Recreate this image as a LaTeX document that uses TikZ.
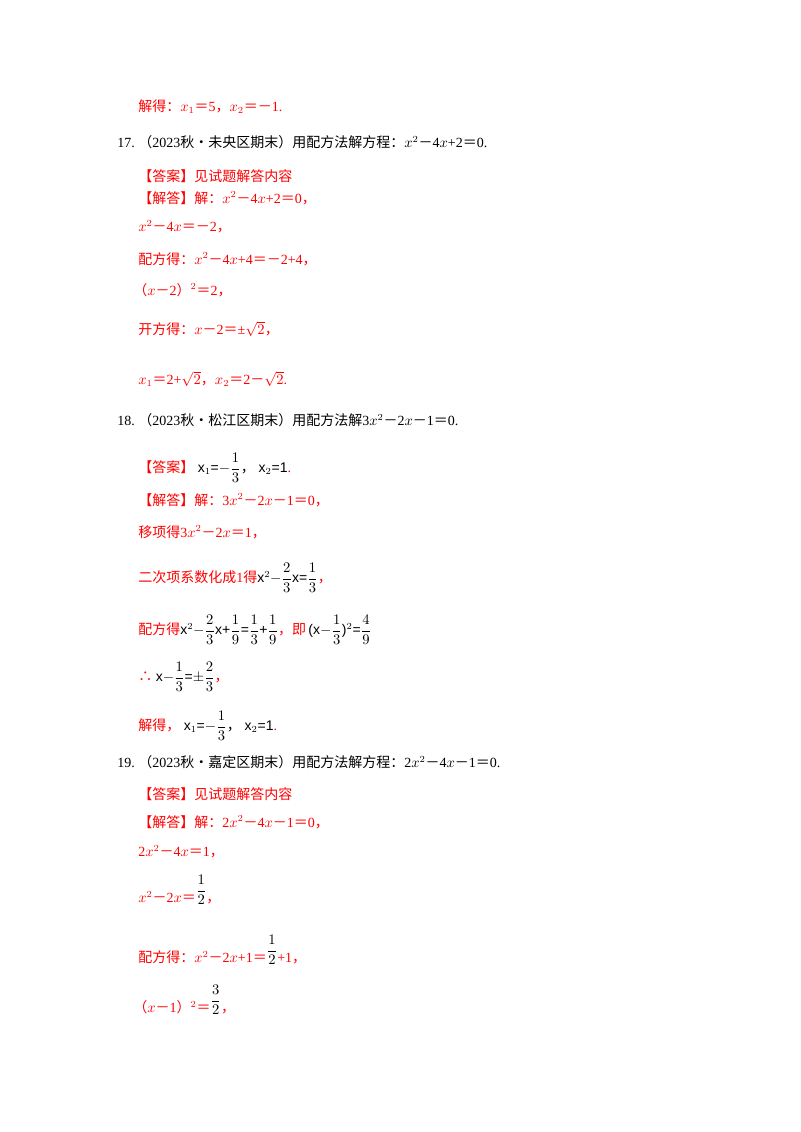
\documentclass[tikz,border=0pt]{standalone}
\usepackage{amsmath}
\usepackage{fontspec}
\setmainfont{Liberation Serif}
\newfontfamily\cjk{Noto Sans CJK SC}
\newfontfamily\arialf{Liberation Sans}
\begin{document}
\begin{tikzpicture}[x=0.75pt,y=-0.75pt,
  t/.style={anchor=west,inner sep=0pt,font=\fontsize{10.5}{12}\selectfont},
  r/.style={t,text=red}]
\useasboundingbox (0,0) rectangle (800,1132);
\newcommand\C[1]{{\cjk #1}}
\newcommand\Mi{{\cjk －}}
\newcommand\Eq{{\cjk ＝}}
\node[r] (a1) at (138,107) {\C{解得：}$x_1$\Eq5\C{，}$x_2$\Eq\Mi1.};
\node[t] (q17) at (117,142) {17.\ \C{（}2023\C{秋•未央区期末）用配方法解方程：}$x^2$\Mi4$x$+2\Eq0.};
\node[r] (a2) at (138,176) {\C{【答案】见试题解答内容}};
\node[r] (a3) at (138,198) {\C{【解答】解：}$x^2$\Mi4$x$+2\Eq0\C{，}};
\node[r] (a4) at (138,227) {$x^2$\Mi4$x$\Eq\Mi2\C{，}};
\node[r] (a5) at (138,259) {\C{配方得：}$x^2$\Mi4$x$+4\Eq\Mi2+4\C{，}};
\node[r] (a6) at (133,290) {\C{（}$x$\Mi2\C{）}$^2$\Eq2\C{，}};
\node[r] (a7) at (138,329) {\C{开方得：}$x$\Mi2\Eq±$\sqrt{2}$\C{，}};
\node[r] (a8) at (138,379) {$x_1$\Eq2+$\sqrt{2}$\C{，}$x_2$\Eq2\Mi$\sqrt{2}$.};
\node[t] (q18) at (117,420) {18.\ \C{（}2023\C{秋•松江区期末）用配方法解}3$x^2$\Mi2$x$\Mi1\Eq0.};
\node[r] (b1) at (138,468) {\C{【答案】}\ \textcolor{black}{\arialf x$_1$=$-\dfrac{1}{3}$\C{，}\ x$_2$=1}.};
\node[r] (b2) at (138,500) {\C{【解答】解：}3$x^2$\Mi2$x$\Mi1\Eq0\C{，}};
\node[r] (b3) at (138,532) {\C{移项得}3$x^2$\Mi2$x$\Eq1\C{，}};
\node[r] (b4) at (138,578) {\C{二次项系数化成}1\C{得}\textcolor{black}{\arialf x$^2$$-\dfrac{2}{3}$x=$\dfrac{1}{3}$}\C{，}};
\node[r] (b5) at (138,630) {\C{配方得}\textcolor{black}{\arialf x$^2$$-\dfrac{2}{3}$x+$\dfrac{1}{9}$=$\dfrac{1}{3}$+$\dfrac{1}{9}$}\C{，即}\textcolor{black}{\arialf \,(x$-\dfrac{1}{3}$)$^2$=$\dfrac{4}{9}$}};
\node[r] (b6) at (138,677) {\C{∴}\ \textcolor{black}{\arialf x$-\dfrac{1}{3}$=$\pm\dfrac{2}{3}$}\C{，}};
\node[r] (b7) at (138,726) {\C{解得，}\ \textcolor{black}{\arialf x$_1$=$-\dfrac{1}{3}$\C{，}\ x$_2$=1}.};
\node[t] (q19) at (117,762) {19.\ \C{（}2023\C{秋•嘉定区期末）用配方法解方程：}2$x^2$\Mi4$x$\Mi1\Eq0.};
\node[r] (c1) at (138,794) {\C{【答案】见试题解答内容}};
\node[r] (c2) at (138,822) {\C{【解答】解：}2$x^2$\Mi4$x$\Mi1\Eq0\C{，}};
\node[r] (c3) at (138,852) {2$x^2$\Mi4$x$\Eq1\C{，}};
\node[r] (c4) at (138,890) {$x^2$\Mi2$x$\Eq\raisebox{1.2ex}{\textcolor{black}{\arialf$\dfrac{1}{2}$}}\C{，}};
\node[r] (c5) at (138,950) {\C{配方得：}$x^2$\Mi2$x$+1\Eq\raisebox{1.2ex}{\textcolor{black}{\arialf$\dfrac{1}{2}$}}+1\C{，}};
\node[r] (c6) at (133,1000) {\C{（}$x$\Mi1\C{）}$^2$\Eq\raisebox{1.2ex}{\textcolor{black}{\arialf$\dfrac{3}{2}$}}\C{，}};
\end{tikzpicture}
\end{document}
